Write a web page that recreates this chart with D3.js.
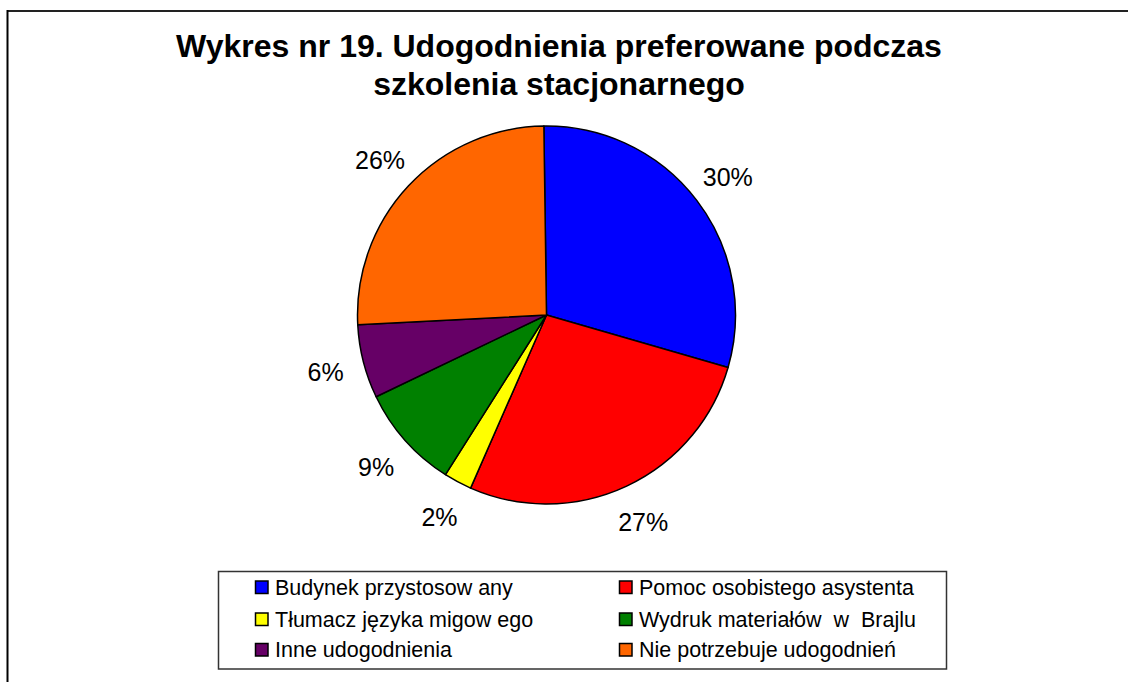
<!DOCTYPE html>
<html><head><meta charset="utf-8">
<script src="https://cdn.jsdelivr.net/npm/d3@7"></script>
<style>body{margin:0;background:#fff;}svg{display:block;}text{white-space:pre;}</style>
</head><body>
<svg id="c" width="1128" height="682"></svg>
<script>
const titleLines = ["Wykres nr 19. Udogodnienia preferowane podczas", "szkolenia stacjonarnego"];
const categories = ["Budynek przystosow any", "Pomoc osobistego asystenta", "Tłumacz języka migow ego", "Wydruk materiałów  w  Brajlu", "Inne udogodnienia", "Nie potrzebuje udogodnień"];
const values = [29.7, 27.1, 2.4, 8.9, 6.3, 25.6];
const pieOrder = [0, 1, 2, 3, 4, 5];
const colors = ["#0000FF", "#FF0000", "#FFFF00", "#008000", "#660066", "#FF6600"];

const svg = d3.select("#c");
svg.append("rect").attr("width",1128).attr("height",682).attr("fill","#fff");
// frame
svg.append("line").attr("x1",7).attr("x2",1128).attr("y1",11).attr("y2",11).attr("stroke","#222").attr("stroke-width",2);
svg.append("line").attr("x1",7.5).attr("x2",7.5).attr("y1",10).attr("y2",682).attr("stroke","#000").attr("stroke-width",2);

// title
const t = svg.append("text").attr("text-anchor","middle").attr("font-family","Liberation Sans, Arial, sans-serif")
  .attr("font-weight","bold").attr("font-size",32).attr("fill","#000");
titleLines.forEach((l,i)=> t.append("tspan").attr("x",559).attr("y",57+i*38).text(l));

// pie
const cx = 546.5, cy = 315, R = 189;
const startOff = -0.8*Math.PI/180;
const pie = d3.pie().sort(null).value(d=>values[d]).startAngle(startOff).endAngle(2*Math.PI+startOff);
const arcs = pie(pieOrder);
const arc = d3.arc().innerRadius(0).outerRadius(R);
const labelArc = d3.arc().innerRadius(228).outerRadius(228);
const g = svg.append("g").attr("transform",`translate(${cx},${cy})`);
g.selectAll("path").data(arcs).join("path").attr("d",arc).attr("fill",d=>colors[d.data])
  .attr("stroke","#000").attr("stroke-width",1.5).attr("stroke-linejoin","round");
const fmt = d3.format(".0f");
g.selectAll("text.lbl").data(arcs).join("text").attr("class","lbl")
  .attr("transform",d=>`translate(${labelArc.centroid(d)})`).attr("text-anchor","middle").attr("dy","0.38em")
  .attr("font-family","Liberation Sans, Arial, sans-serif").attr("font-size",25).attr("fill","#000")
  .text(d=>fmt(values[d.data])+"%");

// legend
const lg = svg.append("g");
lg.append("rect").attr("x",218.5).attr("y",571.5).attr("width",728).attr("height",97.5).attr("fill","#fff").attr("stroke","#333").attr("stroke-width",1.5);
const colX = d3.scaleOrdinal().domain([0,1]).range([255,619]);
const rowY = d3.scaleOrdinal().domain([0,1,2]).range([587,619,649.5]);
categories.forEach((c,i)=>{
  const col = i%2, row = Math.floor(i/2);
  const x = colX(col), y = rowY(row);
  lg.append("rect").attr("x",x+0.5).attr("y",y-6).attr("width",12.5).attr("height",12.5).attr("fill",colors[i]).attr("stroke","#000").attr("stroke-width",1.5);
  lg.append("text").attr("x",x+20).attr("y",y).attr("dy","0.36em").attr("font-family","Liberation Sans, Arial, sans-serif")
    .attr("font-size",21.5).attr("fill","#000").text(c);
});
</script>
</body></html>
